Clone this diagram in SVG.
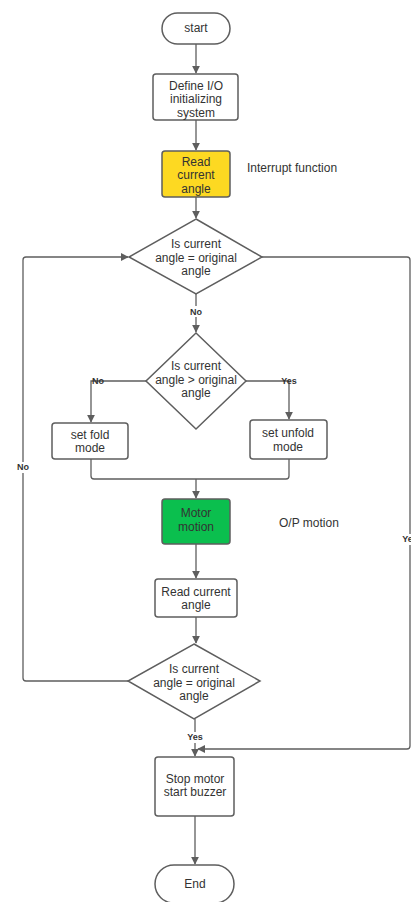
<svg xmlns="http://www.w3.org/2000/svg" width="411" height="902" viewBox="0 0 411 902">
  <style>
    .shape { stroke: #5e5e5e; stroke-width: 1.5; fill: #ffffff; }
    .edge { stroke: #5e5e5e; stroke-width: 1.3; fill: none; }
    text { font-family: "Liberation Sans", Arial, sans-serif; fill: #333333; }
    .t { font-size: 12px; text-anchor: middle; }
    .note { font-size: 12px; }
    .lbl { font-size: 9px; font-weight: bold; text-anchor: middle; }
  </style>
  <defs>
    <marker id="arrow" viewBox="0 0 10 10" refX="9" refY="5" markerWidth="8" markerHeight="8" markerUnits="userSpaceOnUse" orient="auto">
      <path d="M0,0 L10,5 L0,10 Z" fill="#5e5e5e"/>
    </marker>
  </defs>
  <rect width="411" height="902" fill="#ffffff"/>

  <g id="connectors">
    <line class="edge" x1="196" y1="44" x2="196" y2="73" marker-end="url(#arrow)"/>
    <line class="edge" x1="196" y1="120" x2="196" y2="150" marker-end="url(#arrow)"/>
    <line class="edge" x1="196" y1="197" x2="196" y2="218" marker-end="url(#arrow)"/>
    <!-- No: down to second decision -->
    <line class="edge" x1="196" y1="294" x2="196" y2="332" marker-end="url(#arrow)"/>
    <!-- second decision branches -->
    <path class="edge" d="M146,381 H91 V422" marker-end="url(#arrow)"/>
    <path class="edge" d="M246,381 H289 V419" marker-end="url(#arrow)"/>
    <!-- merge of fold / unfold -->
    <path class="edge" d="M91,459 V476 Q91,479 94,479 H286 Q289,479 289,476 V459"/>
    <line class="edge" x1="196" y1="479" x2="196" y2="498" marker-end="url(#arrow)"/>
    <line class="edge" x1="196" y1="544" x2="196" y2="578" marker-end="url(#arrow)"/>
    <line class="edge" x1="196" y1="617" x2="196" y2="643" marker-end="url(#arrow)"/>
    <!-- No loop back to first decision -->
    <path class="edge" d="M128,681 H26 Q23,681 23,678 V260 Q23,257 26,257 H128" marker-end="url(#arrow)"/>
    <!-- Yes from first decision to end -->
    <path class="edge" d="M262,257 H407 Q410,257 410,260 V746 Q410,749 407,749 H198" marker-end="url(#arrow)"/>
    <!-- Yes down to stop -->
    <line class="edge" x1="195" y1="719" x2="195" y2="756" marker-end="url(#arrow)"/>
    <line class="edge" x1="195" y1="816" x2="195" y2="864" marker-end="url(#arrow)"/>

    <!-- connector labels -->
    <rect x="188" y="306" width="16" height="11" fill="#ffffff"/>
    <text class="lbl" x="196" y="315">No</text>
    <text class="lbl" x="98" y="384">No</text>
    <text class="lbl" x="289" y="384">Yes</text>
    <rect x="15" y="462" width="16" height="11" fill="#ffffff"/>
    <text class="lbl" x="23" y="470">No</text>
    <rect x="401" y="534" width="10" height="11" fill="#ffffff"/>
    <text class="lbl" x="410" y="542">Yes</text>
    <rect x="185" y="732" width="20" height="11" fill="#ffffff"/>
    <text class="lbl" x="195" y="740">Yes</text>
  </g>

  <g id="start">
    <rect class="shape" x="162" y="13" width="68" height="31" rx="15.5"/>
    <text class="t" x="196" y="32">start</text>
  </g>

  <g id="define-io">
    <rect class="shape" x="153" y="74" width="85" height="46" rx="3"/>
    <text class="t" x="196" y="90">Define I/O</text>
    <text class="t" x="196" y="103">initializing</text>
    <text class="t" x="196" y="117">system</text>
  </g>

  <g id="read-angle-1">
    <rect class="shape" x="162" y="151" width="68" height="46" rx="3" fill="#fdd922" style="fill:#fdd922"/>
    <text class="t" x="196" y="166">Read</text>
    <text class="t" x="196" y="179">current</text>
    <text class="t" x="196" y="193">angle</text>
  </g>
  <text class="note" x="247" y="172">Interrupt function</text>

  <g id="decision-equal-1">
    <polygon class="shape" points="196,219 262,257 196,294 129,257"/>
    <text class="t" x="196" y="248">Is current</text>
    <text class="t" x="196" y="262">angle = original</text>
    <text class="t" x="196" y="275">angle</text>
  </g>

  <g id="decision-greater">
    <polygon class="shape" points="196,333 246,381 196,429 146,381"/>
    <text class="t" x="196" y="370">Is current</text>
    <text class="t" x="196" y="384">angle &gt; original</text>
    <text class="t" x="196" y="397">angle</text>
  </g>

  <g id="set-fold">
    <rect class="shape" x="52" y="423" width="76" height="36" rx="3"/>
    <text class="t" x="90" y="439">set fold</text>
    <text class="t" x="90" y="452">mode</text>
  </g>

  <g id="set-unfold">
    <rect class="shape" x="250" y="420" width="77" height="39" rx="3"/>
    <text class="t" x="288" y="437">set unfold</text>
    <text class="t" x="288" y="451">mode</text>
  </g>

  <g id="motor-motion">
    <rect class="shape" x="162" y="499" width="68" height="45" rx="3" style="fill:#0bbf4e"/>
    <text class="t" x="196" y="517">Motor</text>
    <text class="t" x="196" y="531">motion</text>
  </g>
  <text class="note" x="279" y="527">O/P motion</text>

  <g id="read-angle-2">
    <rect class="shape" x="155" y="579" width="82" height="38" rx="3"/>
    <text class="t" x="196" y="596">Read current</text>
    <text class="t" x="196" y="609">angle</text>
  </g>

  <g id="decision-equal-2">
    <polygon class="shape" points="194,644 260,681 194,719 128,681"/>
    <text class="t" x="194" y="673">Is current</text>
    <text class="t" x="194" y="687">angle = original</text>
    <text class="t" x="194" y="700">angle</text>
  </g>

  <g id="stop-motor">
    <rect class="shape" x="155" y="757" width="79" height="59" rx="3"/>
    <text class="t" x="195" y="783">Stop motor</text>
    <text class="t" x="195" y="796">start buzzer</text>
  </g>

  <g id="end">
    <rect class="shape" x="155" y="865" width="79" height="38" rx="19"/>
    <text class="t" x="195" y="888">End</text>
  </g>
</svg>
